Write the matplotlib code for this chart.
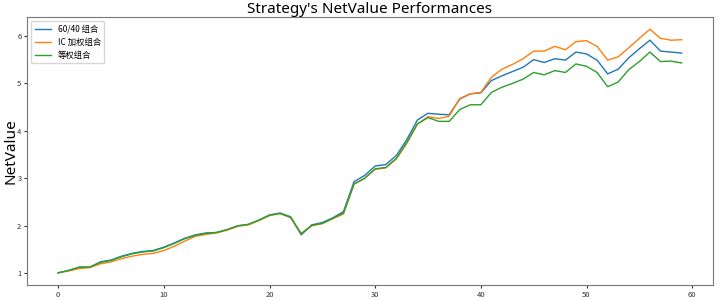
import matplotlib
matplotlib.use("Agg")
import matplotlib.pyplot as plt

plt.rcParams['font.family'] = ['Noto Sans CJK SC', 'DejaVu Sans']

periods = list(range(60))

portfolio_6040 = [1.01, 1.06, 1.13, 1.13, 1.24, 1.28, 1.36, 1.42, 1.46, 1.48,
                  1.55, 1.64, 1.74, 1.81, 1.85, 1.86, 1.92, 2.00, 2.03, 2.12,
                  2.23, 2.27, 2.19, 1.81, 2.02, 2.07, 2.17, 2.30, 2.93, 3.06,
                  3.26, 3.29, 3.48, 3.82, 4.23, 4.37, 4.35, 4.34, 4.67, 4.78,
                  4.80, 5.06, 5.16, 5.25, 5.34, 5.50, 5.44, 5.52, 5.49, 5.66,
                  5.62, 5.49, 5.20, 5.30, 5.54, 5.73, 5.91, 5.68, 5.66, 5.64]

portfolio_ic = [1.01, 1.05, 1.10, 1.12, 1.20, 1.24, 1.31, 1.36, 1.40, 1.42,
                1.48, 1.57, 1.68, 1.78, 1.82, 1.85, 1.91, 1.99, 2.02, 2.11,
                2.22, 2.26, 2.17, 1.84, 2.00, 2.05, 2.15, 2.25, 2.88, 3.00,
                3.19, 3.22, 3.41, 3.74, 4.14, 4.30, 4.26, 4.31, 4.68, 4.78,
                4.81, 5.13, 5.30, 5.40, 5.52, 5.68, 5.68, 5.78, 5.71, 5.88,
                5.90, 5.78, 5.49, 5.56, 5.75, 5.95, 6.14, 5.95, 5.91, 5.92]

portfolio_equal = [1.01, 1.06, 1.13, 1.13, 1.23, 1.27, 1.35, 1.41, 1.45, 1.47,
                   1.54, 1.63, 1.73, 1.80, 1.84, 1.86, 1.92, 2.00, 2.03, 2.12,
                   2.22, 2.26, 2.18, 1.83, 2.01, 2.05, 2.16, 2.27, 2.88, 3.00,
                   3.20, 3.23, 3.42, 3.76, 4.15, 4.28, 4.20, 4.20, 4.45, 4.55,
                   4.55, 4.81, 4.92, 5.00, 5.09, 5.23, 5.18, 5.27, 5.23, 5.41,
                   5.36, 5.23, 4.93, 5.03, 5.29, 5.46, 5.66, 5.46, 5.47, 5.43]

labels = ["60/40 组合", "IC 加权组合", "等权组合"]

fig = plt.figure(figsize=(7.2, 3.0), dpi=100)
ax = fig.add_axes([0.0375, 0.05, 0.9525, 0.893])

ax.plot(periods, portfolio_6040, color='tab:blue', lw=1.0, label=labels[0])
ax.plot(periods, portfolio_ic, color='tab:orange', lw=1.0, label=labels[1])
ax.plot(periods, portfolio_equal, color='tab:green', lw=1.0, label=labels[2])

ax.set_title("Strategy's NetValue Performances", fontsize=11, pad=3,
             family=['Noto Sans', 'DejaVu Sans'])
ax.set_ylabel("NetValue", fontsize=11, family=['Noto Sans', 'DejaVu Sans'])
ax.yaxis.set_label_coords(-0.013, 0.5)
ax.set_xticks([0, 10, 20, 30, 40, 50, 60])
ax.set_yticks([1, 2, 3, 4, 5, 6])
ax.tick_params(labelsize=5.5, length=2.5, pad=1.5, colors='#333333')
for s in ax.spines.values():
    s.set_color('#777777')
ax.legend(loc='upper left', fontsize=6, handlelength=2.0, framealpha=0.8)

fig.savefig("out.png", dpi=100)
